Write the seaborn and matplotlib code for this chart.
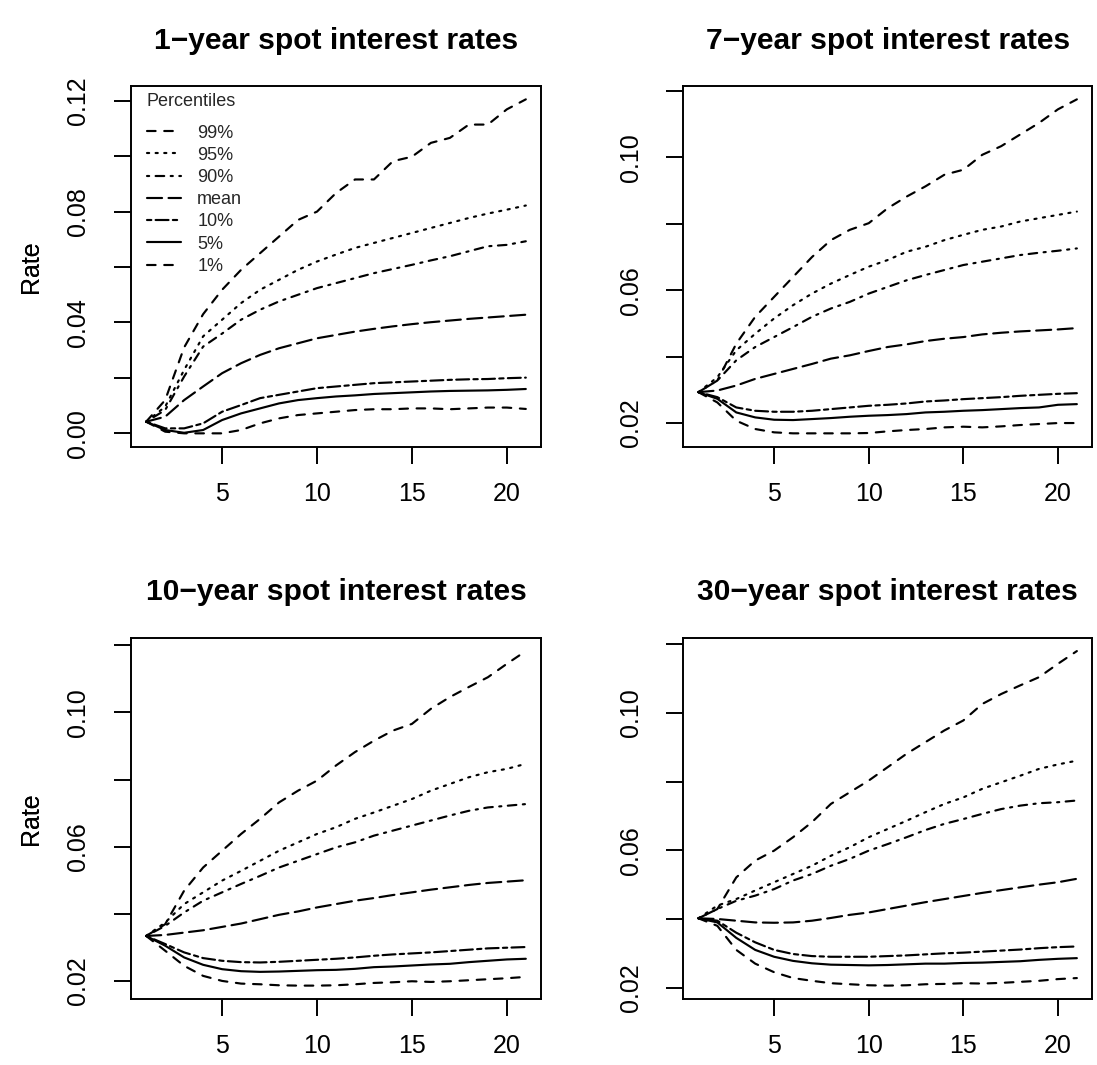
import matplotlib
matplotlib.use("Agg")
import matplotlib.pyplot as plt
import seaborn as sns

# ---------------- data ----------------
steps = list(range(1, 22))
percentile_labels = ["99%", "95%", "90%", "mean", "10%", "5%", "1%"]
panel_titles = [
    "1\u2212year spot interest rates",
    "7\u2212year spot interest rates",
    "10\u2212year spot interest rates",
    "30\u2212year spot interest rates",
]

# 1-year
y1_p99 = [0.0042, 0.0120, 0.0310, 0.0430, 0.0518, 0.0590, 0.0650, 0.0710, 0.0770, 0.0800, 0.0867,
          0.0916, 0.0916, 0.0982, 0.0998, 0.1048, 0.1066, 0.1114, 0.1114, 0.1169, 0.1205]
y1_p95 = [0.0042, 0.0096, 0.0229, 0.0350, 0.0410, 0.0470, 0.0518, 0.0554, 0.0590, 0.0620, 0.0645,
          0.0669, 0.0687, 0.0705, 0.0723, 0.0741, 0.0759, 0.0777, 0.0793, 0.0807, 0.0822]
y1_p90 = [0.0042, 0.0084, 0.0205, 0.0313, 0.0360, 0.0410, 0.0446, 0.0476, 0.0500, 0.0524, 0.0542,
          0.0560, 0.0578, 0.0593, 0.0608, 0.0624, 0.0639, 0.0657, 0.0675, 0.0680, 0.0693]
y1_mean = [0.0042, 0.0060, 0.0120, 0.0169, 0.0217, 0.0253, 0.0283, 0.0307, 0.0325, 0.0343, 0.0355,
           0.0367, 0.0377, 0.0386, 0.0394, 0.0401, 0.0407, 0.0413, 0.0418, 0.0423, 0.0428]
y1_p10 = [0.0042, 0.0018, 0.0018, 0.0036, 0.0078, 0.0102, 0.0127, 0.0139, 0.0151, 0.0163, 0.0169,
          0.0175, 0.0181, 0.0184, 0.0187, 0.0190, 0.0193, 0.0195, 0.0196, 0.0199, 0.0201]
y1_p05 = [0.0042, 0.0012, 0.0002, 0.0012, 0.0048, 0.0072, 0.0090, 0.0108, 0.0120, 0.0127, 0.0133,
          0.0137, 0.0142, 0.0145, 0.0148, 0.0151, 0.0153, 0.0154, 0.0155, 0.0157, 0.0160]
y1_p01 = [0.0042, 0.0006, 0.0000, 0.0000, 0.0000, 0.0012, 0.0036, 0.0054, 0.0066, 0.0072, 0.0078,
          0.0084, 0.0087, 0.0087, 0.0090, 0.0090, 0.0087, 0.0090, 0.0093, 0.0093, 0.0088]

# 7-year
y7_p99 = [0.0293, 0.0328, 0.0439, 0.0520, 0.0580, 0.0640, 0.0700, 0.0751, 0.0782, 0.0802, 0.0847,
          0.0882, 0.0913, 0.0948, 0.0963, 0.1008, 0.1034, 0.1069, 0.1104, 0.1145, 0.1175]
y7_p95 = [0.0293, 0.0338, 0.0419, 0.0469, 0.0515, 0.0555, 0.0590, 0.0620, 0.0646, 0.0671, 0.0691,
          0.0716, 0.0731, 0.0751, 0.0767, 0.0782, 0.0792, 0.0807, 0.0817, 0.0827, 0.0837]
y7_p90 = [0.0293, 0.0328, 0.0389, 0.0429, 0.0459, 0.0489, 0.0520, 0.0545, 0.0565, 0.0590, 0.0610,
          0.0630, 0.0646, 0.0661, 0.0676, 0.0686, 0.0696, 0.0706, 0.0713, 0.0719, 0.0726]
y7_mean = [0.0293, 0.0298, 0.0313, 0.0333, 0.0348, 0.0363, 0.0378, 0.0394, 0.0404, 0.0417, 0.0429,
           0.0437, 0.0447, 0.0454, 0.0459, 0.0467, 0.0472, 0.0476, 0.0479, 0.0482, 0.0486]
y7_p10 = [0.0293, 0.0278, 0.0247, 0.0237, 0.0234, 0.0234, 0.0237, 0.0242, 0.0247, 0.0252, 0.0255,
          0.0259, 0.0265, 0.0268, 0.0272, 0.0275, 0.0278, 0.0282, 0.0285, 0.0288, 0.0290]
y7_p05 = [0.0293, 0.0273, 0.0232, 0.0217, 0.0210, 0.0209, 0.0212, 0.0215, 0.0219, 0.0222, 0.0224,
          0.0227, 0.0232, 0.0234, 0.0237, 0.0239, 0.0242, 0.0245, 0.0247, 0.0255, 0.0257]
y7_p01 = [0.0293, 0.0262, 0.0207, 0.0182, 0.0172, 0.0169, 0.0169, 0.0169, 0.0169, 0.0170, 0.0175,
          0.0179, 0.0182, 0.0187, 0.0189, 0.0187, 0.0190, 0.0194, 0.0197, 0.0200, 0.0200]

# 10-year
y10_p99 = [0.0334, 0.0369, 0.0469, 0.0538, 0.0588, 0.0638, 0.0683, 0.0732, 0.0767, 0.0797, 0.0842,
           0.0882, 0.0916, 0.0946, 0.0966, 0.1011, 0.1046, 0.1076, 0.1105, 0.1145, 0.1183]
y10_p95 = [0.0334, 0.0374, 0.0429, 0.0464, 0.0499, 0.0528, 0.0558, 0.0588, 0.0613, 0.0638, 0.0658,
           0.0683, 0.0702, 0.0722, 0.0742, 0.0767, 0.0787, 0.0807, 0.0822, 0.0832, 0.0847]
y10_p90 = [0.0334, 0.0364, 0.0404, 0.0439, 0.0464, 0.0489, 0.0513, 0.0538, 0.0558, 0.0578, 0.0598,
           0.0613, 0.0633, 0.0648, 0.0663, 0.0678, 0.0693, 0.0707, 0.0717, 0.0722, 0.0727]
y10_mean = [0.0334, 0.0337, 0.0344, 0.0351, 0.0361, 0.0371, 0.0384, 0.0397, 0.0407, 0.0419, 0.0429,
            0.0439, 0.0447, 0.0456, 0.0464, 0.0472, 0.0479, 0.0486, 0.0492, 0.0496, 0.0500]
y10_p10 = [0.0334, 0.0310, 0.0285, 0.0268, 0.0260, 0.0256, 0.0255, 0.0257, 0.0260, 0.0263, 0.0266,
           0.0270, 0.0275, 0.0279, 0.0282, 0.0285, 0.0289, 0.0293, 0.0297, 0.0299, 0.0301]
y10_p05 = [0.0334, 0.0305, 0.0270, 0.0248, 0.0235, 0.0229, 0.0227, 0.0228, 0.0230, 0.0232, 0.0233,
           0.0236, 0.0241, 0.0243, 0.0246, 0.0249, 0.0251, 0.0256, 0.0260, 0.0264, 0.0266]
y10_p01 = [0.0334, 0.0290, 0.0245, 0.0215, 0.0200, 0.0192, 0.0190, 0.0187, 0.0186, 0.0186, 0.0187,
           0.0190, 0.0194, 0.0196, 0.0199, 0.0197, 0.0199, 0.0202, 0.0205, 0.0208, 0.0212]

# 30-year
y30_p99 = [0.0402, 0.0429, 0.0521, 0.0570, 0.0599, 0.0638, 0.0682, 0.0735, 0.0769, 0.0803, 0.0842,
           0.0881, 0.0915, 0.0949, 0.0978, 0.1026, 0.1055, 0.1080, 0.1104, 0.1143, 0.1180]
y30_p95 = [0.0402, 0.0439, 0.0458, 0.0483, 0.0507, 0.0531, 0.0555, 0.0584, 0.0609, 0.0638, 0.0662,
           0.0686, 0.0711, 0.0735, 0.0754, 0.0779, 0.0798, 0.0817, 0.0837, 0.0850, 0.0861]
y30_p90 = [0.0402, 0.0429, 0.0453, 0.0468, 0.0487, 0.0512, 0.0531, 0.0555, 0.0575, 0.0599, 0.0618,
           0.0638, 0.0659, 0.0677, 0.0691, 0.0706, 0.0720, 0.0730, 0.0737, 0.0740, 0.0745]
y30_mean = [0.0402, 0.0400, 0.0395, 0.0390, 0.0389, 0.0390, 0.0395, 0.0403, 0.0412, 0.0419, 0.0429,
            0.0439, 0.0449, 0.0458, 0.0467, 0.0476, 0.0484, 0.0492, 0.0500, 0.0507, 0.0517]
y30_p10 = [0.0402, 0.0395, 0.0360, 0.0332, 0.0310, 0.0298, 0.0292, 0.0290, 0.0290, 0.0290, 0.0292,
           0.0294, 0.0297, 0.0300, 0.0302, 0.0305, 0.0308, 0.0311, 0.0315, 0.0318, 0.0320]
y30_p05 = [0.0402, 0.0390, 0.0345, 0.0310, 0.0290, 0.0278, 0.0271, 0.0267, 0.0266, 0.0265, 0.0266,
           0.0268, 0.0270, 0.0270, 0.0272, 0.0273, 0.0275, 0.0277, 0.0281, 0.0284, 0.0286]
y30_p01 = [0.0402, 0.0380, 0.0310, 0.0270, 0.0245, 0.0228, 0.0220, 0.0213, 0.0210, 0.0207, 0.0206,
           0.0207, 0.0210, 0.0211, 0.0213, 0.0212, 0.0214, 0.0217, 0.0220, 0.0225, 0.0228]

xticks = [5, 10, 15, 20]
yticks_1 = [0.00, 0.02, 0.04, 0.06, 0.08, 0.10, 0.12]
yticklabels_1 = ["0.00", "", "0.04", "", "0.08", "", "0.12"]
yticks_other = [0.02, 0.04, 0.06, 0.08, 0.10, 0.12]
yticklabels_other = ["0.02", "", "0.06", "", "0.10", ""]

panels = [
    [y1_p99, y1_p95, y1_p90, y1_mean, y1_p10, y1_p05, y1_p01],
    [y7_p99, y7_p95, y7_p90, y7_mean, y7_p10, y7_p05, y7_p01],
    [y10_p99, y10_p95, y10_p90, y10_mean, y10_p10, y10_p05, y10_p01],
    [y30_p99, y30_p95, y30_p90, y30_mean, y30_p10, y30_p05, y30_p01],
]

# ---------------- style ----------------
line_styles = {
    "99%": (0, (4, 4)),
    "95%": (0, (1, 3)),
    "90%": (0, (1, 3, 4, 3)),
    "mean": (0, (7, 3)),
    "10%": (0, (2, 2, 6, 2)),
    "5%": "-",
    "1%": (0, (4, 4)),
}

sns.set_theme(style="ticks")
plt.rcParams["font.family"] = ["Liberation Sans", "DejaVu Sans"]

W, H = 1097, 1065
fig = plt.figure(figsize=(W / 100, H / 100), dpi=100)

# pixel boxes (left, top, right, bottom)
boxes = [
    (131, 86, 541, 446.7),
    (683.3, 86, 1092, 446.7),
    (131, 637.7, 541, 999),
    (683.3, 637.7, 1092, 999),
]

for i, (box, series, title) in enumerate(zip(boxes, panels, panel_titles)):
    l, t, r, b = box
    ax = fig.add_axes([l / W, 1 - b / H, (r - l) / W, (b - t) / H])
    handles = []
    for lab, vals in zip(percentile_labels, series):
        sns.lineplot(x=steps, y=vals, ax=ax, color="black", linewidth=1.55,
                     linestyle=line_styles[lab], dash_capstyle="round",
                     solid_capstyle="round", legend=False)
        handles.append(ax.lines[-1])
    ax.margins(x=0.04, y=0.04)
    ax.set_xticks(xticks)
    ax.set_xticklabels([str(v) for v in xticks])
    if i == 0:
        ax.set_yticks(yticks_1)
        ax.set_yticklabels(yticklabels_1)
    else:
        ax.set_yticks(yticks_other)
        ax.set_yticklabels(yticklabels_other)
    for lbl in ax.get_yticklabels():
        lbl.set_rotation(90)
        lbl.set_va("center")
    ax.tick_params(axis="both", direction="out", length=12.2, width=1.4,
                   labelsize=18, colors="black")
    ax.tick_params(axis="x", pad=13)
    ax.tick_params(axis="y", pad=17)
    for sp in ax.spines.values():
        sp.set_visible(True)
        sp.set_linewidth(1.4)
        sp.set_color("black")
    ax.set_xlabel("")
    ax.set_ylabel("Rate", fontsize=18, color="black")
    ax.yaxis.label.set_va("center")
    ax.yaxis.set_label_coords((31 - l) / (r - l), 0.5)
    ax.set_title(title, fontsize=21.6, fontweight="bold", pad=27, color="black")
    ax.grid(False)

    if i == 0:
        ax.text((146 - l) / (r - l), 1 - (101.7 - t) / (b - t), "Percentiles",
                transform=ax.transAxes, fontsize=13, va="center", ha="left")
        ax.legend(handles, percentile_labels, loc="upper left",
                  bbox_to_anchor=((146.7 - l) / (r - l), 1 - (124.5 - t) / (b - t)),
                  frameon=False, fontsize=13, borderpad=0, borderaxespad=0,
                  handlelength=1.92, handletextpad=0.88, labelspacing=0.29)

fig.savefig("out.png", dpi=100)
